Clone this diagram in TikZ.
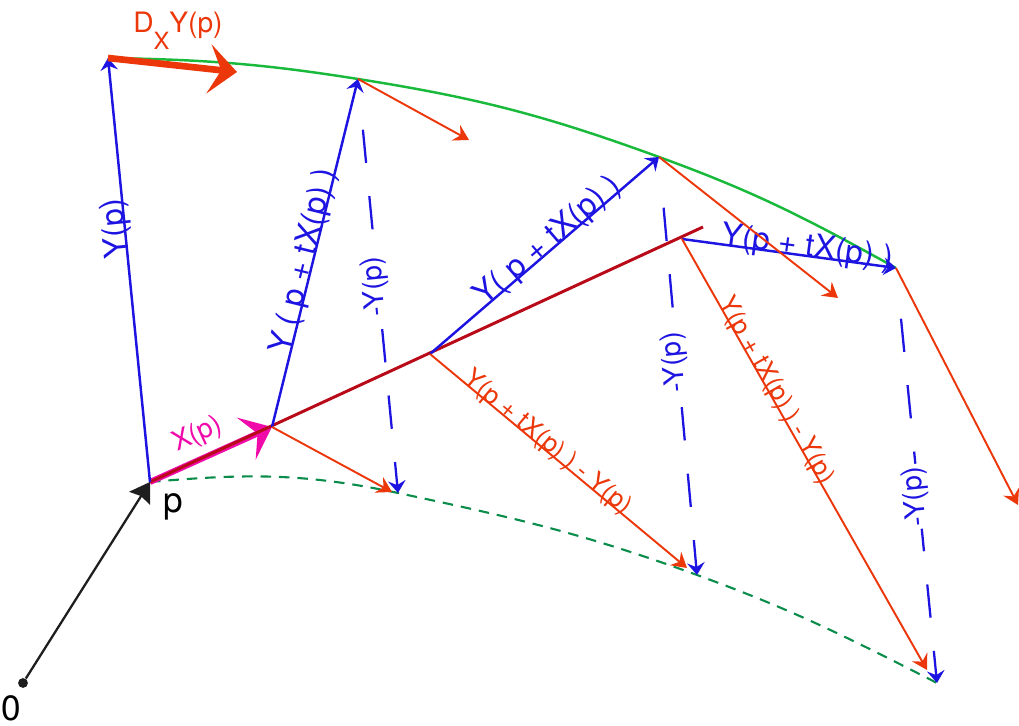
\documentclass[tikz,border=0pt]{standalone}
\usepackage{fontspec}
\setmainfont{TeX Gyre Heros}
\usetikzlibrary{arrows.meta}
\definecolor{vecblue}{RGB}{30,20,225}
\definecolor{difred}{RGB}{235,55,10}
\definecolor{linered}{RGB}{185,10,25}
\definecolor{xmag}{RGB}{240,10,170}
\definecolor{curvegreen}{RGB}{25,185,60}
\definecolor{dashgreen}{RGB}{10,140,75}
\definecolor{pointblack}{RGB}{30,30,30}
\tikzset{
vec/.style={vecblue, line width=1.4pt, -{Stealth[length=7pt,width=10pt,inset=2.5pt]}},
negvec/.style={vecblue, line width=1.3pt, dash pattern=on 19pt off 19pt, dash phase=19pt, shorten <=10pt, -{Stealth[length=7pt,width=10pt,inset=2.5pt]}},
difvec/.style={difred, line width=1.1pt, -{Stealth[length=8.5pt,width=10pt,inset=3pt]}},
veclabel/.style={sloped, anchor=base, inner sep=0pt, text=vecblue, font=\fontsize{18}{18}\selectfont},
neglabel/.style={rotate=95.5, anchor=mid, inner sep=1.5pt, fill=white, text=vecblue, font=\fontsize{16}{16}\selectfont},
diflabel/.style={sloped, anchor=base, inner sep=0pt, text=difred, font=\fontsize{14.5}{14.5}\selectfont}
}
\begin{document}
\begin{tikzpicture}[x=0.02cm, y=0.02cm]
\useasboundingbox (0,0) rectangle (1019,726);
\coordinate (zero) at (23,43);
\coordinate (p) at (150,244);
\coordinate (e) at (703,499);
\coordinate (b1) at (272,299);
\coordinate (b2) at (430,372);
\coordinate (b3) at (682,487);
\coordinate (t0) at (108,668);
\coordinate (t1) at (358,647);
\coordinate (t2) at (659,569);
\coordinate (t3) at (896,458);
\coordinate (d1) at (398,233);
\coordinate (d2) at (697,151);
\coordinate (d3) at (937,43);
\coordinate (o1) at (392,234);
\coordinate (o2) at (687,158);
\coordinate (o3) at (927,56);
\coordinate (u1) at (469,586);
\coordinate (u2) at (838,428);
\coordinate (u3) at (1018,221);
\coordinate (dxy) at (237,654);
\node(dot) at (zero) [circle, fill=pointblack, inner sep=0pt, minimum size=5.6pt] {};
\node(zerolab) at (11,18) {\fontsize{20}{20}\selectfont 0};
\node(plab) at (173,219) {\fontsize{20}{20}\selectfont p};
\draw[dashgreen, line width=1.2pt, dash pattern=on 6pt off 4.5pt] (p) to[out=5,in=168] (d1) to[out=-12,in=160] (d2) to[out=-20,in=153] (d3);
\draw[curvegreen, line width=1.4pt] (t0) to[out=-1,in=171] (t1) to[out=-9,in=160] (t2) to[out=-20,in=151] (t3);
\draw[xmag, line width=3.4pt, -{Stealth[length=16pt,width=26pt,inset=7pt]}] (p) -- node[sloped, above=1pt, pos=0.47, text=xmag, font=\fontsize{15.5}{15.5}\selectfont] (xlab) {X(p)} (b1);
\draw[linered, line width=1.7pt] (p) -- (e);
\draw[pointblack, line width=1.3pt, -{Stealth[length=11pt,width=14pt,inset=1.5pt]}] (dot) -- (p);
\draw[vec] (p) -- node[veclabel, allow upside down, pos=0.6] (ylab) {Y(p)} (t0);
\draw[vec] (b1) -- node[veclabel, pos=0.47] (ylab1) {Y ( p + tX(p) )} (t1);
\draw[vec] (b2) -- node[veclabel, pos=0.54] (ylab2) {Y( p + tX(p) )} (t2);
\draw[vec] (b3) -- node[veclabel, pos=0.58] (ylab3) {Y(p + tX(p) )} (t3);
\draw[negvec] (t1) -- node[neglabel, pos=0.5] (nlab1) {-Y(p)} (d1);
\draw[negvec] (t2) -- node[neglabel, pos=0.49] (nlab2) {-Y(p)} (d2);
\draw[negvec] (t3) -- node[neglabel, pos=0.55] (nlab3) {-Y(p)} (d3);
\draw[difvec] (b1) -- (o1);
\draw[difvec] (b2) -- node[diflabel, pos=0.44] (dlab2) {Y(p + tX(p) ) - Y(p)} (o2);
\draw[difvec] (b3) -- node[diflabel, pos=0.36] (dlab3) {Y(p + tX(p) ) - Y(p)} (o3);
\draw[difvec] (t1) -- (u1);
\draw[difvec] (t2) -- (u2);
\draw[difvec] (t3) -- (u3);
\draw[difred, line width=3.8pt, -{Stealth[length=16pt,width=28pt,inset=7pt]}] (t0) -- (dxy);
\node(dxylab) [anchor=base west, inner sep=0pt, text=difred, font=\fontsize{16}{16}\selectfont] at (133,693) {D\raisebox{-9.5pt}{\fontsize{13.5}{13.5}\selectfont X}Y(p)};
\end{tikzpicture}
\end{document}
